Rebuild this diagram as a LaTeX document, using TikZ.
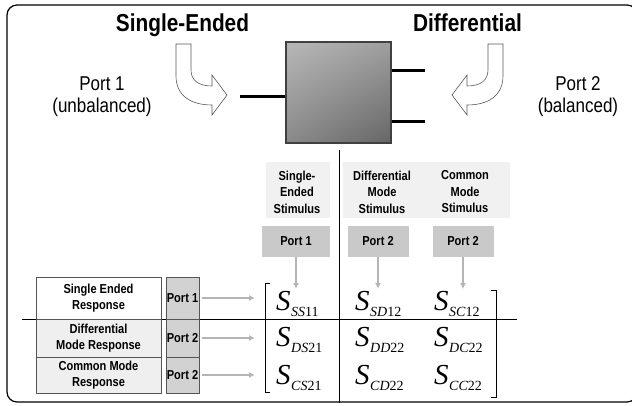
\documentclass[tikz,border=0pt]{standalone}
\usepackage[no-math]{fontspec}
\setmainfont{Liberation Sans}[FakeStretch=0.85]
\newfontfamily\matfont{Liberation Serif}
\usetikzlibrary{arrows.meta,shadings}
\definecolor{hdrgray}{HTML}{F1F1F1}
\definecolor{boxgray}{HTML}{C9C9C9}
\definecolor{colgray}{HTML}{D2D2D2}
\definecolor{rowgray}{HTML}{EFEFEF}
\definecolor{edgegray}{HTML}{555555}
\definecolor{feedgray}{HTML}{B5B5B5}
% S-parameter entry: big italic S with a lowered subscript
\newcommand{\sparam}[2]{{\fontsize{29}{29}\matfont\itshape S}\kern0.5pt\raisebox{-6pt}{\fontsize{14}{14}\matfont\itshape #1\upshape #2}}
\tikzset{
  heading/.style={font=\fontsize{24.5}{28}\selectfont\bfseries, anchor=base, inner sep=0pt},
  portlabel/.style={font=\fontsize{20}{22}\selectfont, align=center, inner sep=0pt},
  lbl/.style={font=\fontsize{13}{16.5}\selectfont\bfseries, align=center, inner sep=0pt},
  hdrbg/.style={fill=hdrgray, inner sep=0pt},
  portbox/.style={fill=boxgray, lbl, minimum height=31pt},
  rowbox/.style={draw=edgegray, line width=0.8pt, lbl, minimum width=125pt},
  colbox/.style={draw=edgegray, line width=0.8pt, fill=colgray, lbl, minimum width=33pt},
  feed/.style={draw=feedgray, line width=1.2pt, -{Latex[length=6pt,width=6pt]}},
  uturn/.style={draw=black!65, fill=white, line width=0.6pt},
  lead/.style={line width=3pt},
  entry/.style={anchor=base west, inner sep=0pt},
}
\begin{document}
\begin{tikzpicture}[x=1pt,y=-1pt]
\useasboundingbox (0,0) rectangle (632,405);
\draw[line width=1.2pt, rounded corners=10pt] (7,5) rectangle (637,402);
% top half: the device
\node[heading] (sehead) at (182.5,31) {Single-Ended};
\node[heading] (dfhead) at (467.5,31) {Differential};
\node[portlabel] (p1txt) at (102,97) {Port 1\\(unbalanced)};
\node[portlabel] (p2txt) at (578,97) {Port 2\\(balanced)};
\node[draw=black!75, line width=1.2pt, minimum width=105pt, minimum height=101pt, inner sep=0pt,
  upper left=black!28, upper right=black!38, lower left=black!46, lower right=black!60] (dut) at (338.5,92.5) {};
\coordinate (lead1) at (240,96);
\coordinate (lead2) at (425,70);
\coordinate (lead3) at (425,121);
\draw[lead] (lead1) -- (lead1 -| dut.west);
\draw[lead] (lead2 -| dut.east) -- (lead2);
\draw[lead] (lead3 -| dut.east) -- (lead3);
\draw[uturn] (176,44) -- (176,76) .. controls (176,95) and (190,105) .. (212,105) -- (212,115) -- (227,95)
  -- (212,75) -- (212,86) .. controls (198,86) and (191,80) .. (191,70) -- (191,44) -- cycle;
\draw[uturn] (503,44) -- (503,76) .. controls (503,95) and (489,105) .. (467,105) -- (467,115) -- (452,95)
  -- (467,75) -- (467,86) .. controls (481,86) and (488,80) .. (488,70) -- (488,44) -- cycle;
% bottom half: the matrix
\coordinate (divtop) at (339,150);
\coordinate (divbot) at (339,403);
\coordinate (hlleft) at (22,319);
\coordinate (hlright) at (517,319);
\node[hdrbg, minimum width=64pt, minimum height=56pt] (sebg) at (298,190) {};
\node[hdrbg, minimum width=167pt, minimum height=56pt] (dmbg) at (426.5,190) {};
\draw[line width=0.8pt] (divtop) -- (divbot);
\draw[line width=0.8pt] (hlleft) -- (hlright);
\node[lbl] (sehd) at (297,192) {Single-\\Ended\\Stimulus};
\node[lbl] (dmhd) at (382,192) {Differential\\Mode\\Stimulus};
\node[lbl] (cmhd) at (465,192) {Common\\Mode\\Stimulus};
\node[portbox, minimum width=68pt] (in1) at (296,241.5) {Port 1};
\node[portbox, minimum width=61pt] (in2) at (378,241.5) {Port 2};
\node[portbox, minimum width=61pt] (in3) at (463,241.5) {Port 2};
\coordinate (t1) at (296,289);
\coordinate (t2) at (378,289);
\coordinate (t3) at (463,289);
\draw[feed] (in1.south) -- (t1);
\draw[feed] (in2.south) -- (t2);
\draw[feed] (in3.south) -- (t3);
\node[entry] (s11) at (276,310) {\sparam{SS}{11}};
\node[entry] (s12) at (355,310) {\sparam{SD}{12}};
\node[entry] (s13) at (434,310) {\sparam{SC}{12}};
\node[entry] (s21) at (276,346) {\sparam{DS}{21}};
\node[entry] (s22) at (355,346) {\sparam{DD}{22}};
\node[entry] (s23) at (434,346) {\sparam{DC}{22}};
\node[entry] (s31) at (276,384) {\sparam{CS}{21}};
\node[entry] (s32) at (355,384) {\sparam{CD}{22}};
\node[entry] (s33) at (434,384) {\sparam{CC}{22}};
\draw[line width=0.8pt] (270,283) -- (265,283) -- (265,392) -- (270,392);
\draw[line width=0.8pt] (491,290) -- (496,290) -- (496,397) -- (491,397);
\node[rowbox, fill=white, minimum height=42pt] (r1) at (98.5,298) {Single Ended\\Response};
\node[rowbox, fill=rowgray, minimum height=38pt] (r2) at (98.5,338) {Differential\\Mode Response};
\node[rowbox, fill=rowgray, minimum height=36pt] (r3) at (98.5,375) {Common Mode\\Response};
\node[colbox, minimum height=42pt] (o1) at (182.5,298) {Port 1};
\node[colbox, minimum height=38pt] (o2) at (182.5,338) {Port 2};
\node[colbox, minimum height=36pt] (o3) at (182.5,375) {Port 2};
\coordinate (e1) at (255,298);
\coordinate (e2) at (255,338);
\coordinate (e3) at (255,375);
\draw[feed] ([xshift=3pt]o1.east) -- (e1);
\draw[feed] ([xshift=3pt]o2.east) -- (e2);
\draw[feed] ([xshift=3pt]o3.east) -- (e3);
\end{tikzpicture}
\end{document}
